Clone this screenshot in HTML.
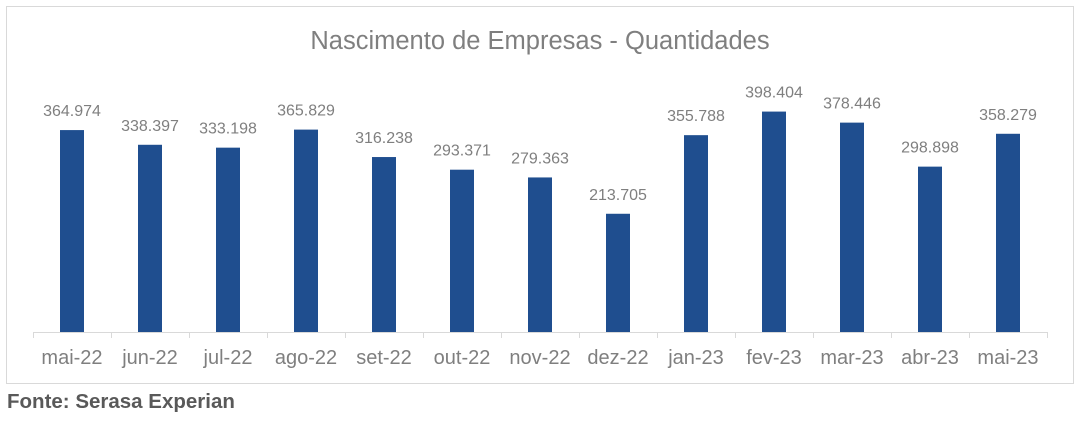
<!DOCTYPE html>
<html><head><meta charset="utf-8"><style>
body{margin:0;background:#fff;width:1080px;height:419px;overflow:hidden;font-family:"Liberation Sans",sans-serif}
</style></head><body>
<svg width="1080" height="419">
<rect x="6.5" y="6.5" width="1067" height="377" fill="#fff" stroke="#d9d9d9"/>
<text x="540" y="49" text-anchor="middle" font-size="25.5" fill="#7f7f7f">Nascimento de Empresas - Quantidades</text>
<g id="plot"></g>
<text x="7" y="408" font-size="20.5" font-weight="bold" fill="#595959">Fonte: Serasa Experian</text>
</svg>
<script>
const categories=["mai-22","jun-22","jul-22","ago-22","set-22","out-22","nov-22","dez-22","jan-23","fev-23","mar-23","abr-23","mai-23"];
const values=[364974,338397,333198,365829,316238,293371,279363,213705,355788,398404,378446,298898,358279];
const labels=["364.974","338.397","333.198","365.829","316.238","293.371","279.363","213.705","355.788","398.404","378.446","298.898","358.279"];
const NS="http://www.w3.org/2000/svg";
const g=document.getElementById("plot");
const x0=33,step=78,base=332,bw=24;
function y(v){return base-v*(221.3/400000);}
function xc(i){return x0+step*i+step/2;}
function mk(t,a){const e=document.createElementNS(NS,t);for(const k in a)e.setAttribute(k,a[k]);g.appendChild(e);return e;}
const ax=mk("line",{x1:x0,x2:x0+step*categories.length,y1:base+0.5,y2:base+0.5,stroke:"#d9d9d9"});


for(let i=0;i<=categories.length;i++){
 const t=mk("line",{x1:x0+step*i+0.5,x2:x0+step*i+0.5,y1:base,y2:base+6,stroke:"#d9d9d9"});
 
 
}
categories.forEach((c,i)=>{
 const b=mk("rect",{x:xc(i)-bw/2,y:y(values[i]),width:bw,height:base-y(values[i]),fill:"#1f4e8f"});
 
 
 const l=mk("text",{x:xc(i),y:y(values[i])-14,"text-anchor":"middle","font-size":"16",fill:"#7f7f7f"});
 l.textContent=labels[i];
 
 
 const cl=mk("text",{x:xc(i),y:364,"text-anchor":"middle","font-size":"20",fill:"#7f7f7f"});
 cl.textContent=c;
 
 
});
</script>
</body></html>
